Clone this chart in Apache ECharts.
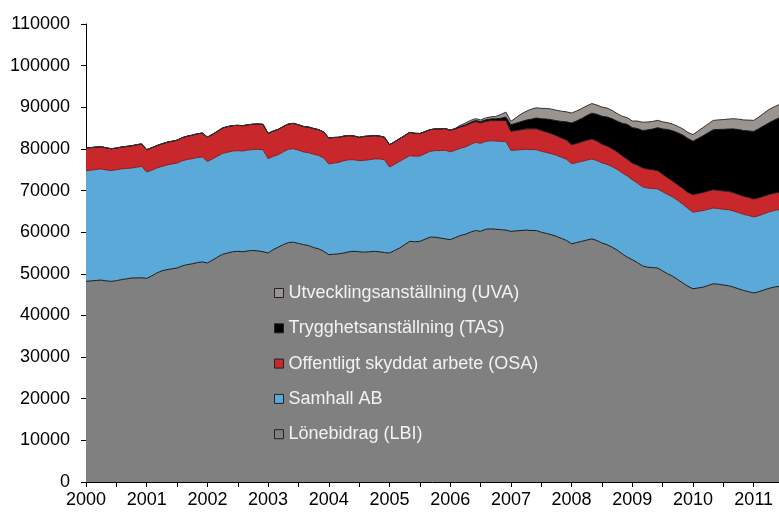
<!DOCTYPE html>
<html>
<head>
<meta charset="utf-8">
<script src="https://cdn.jsdelivr.net/npm/echarts@6/dist/echarts.min.js"></script>
<style>
  html, body { margin: 0; padding: 0; background: #fff; }
  #chart { width: 779px; height: 512px; }
</style>
</head>
<body>
<div id="chart"></div>
<script>
// manadsdata jan 2000 - jun 2011
var startYear = 2000, monthCount = 138;
var months = [];
for (var i = 0; i < monthCount; i++) {
  months.push((startYear + Math.floor(i / 12)) + '-' + ('0' + (i % 12 + 1)).slice(-2));
}

var names = ['Lönebidrag (LBI)', 'Samhall AB', 'Offentligt skyddat arbete (OSA)',
             'Trygghetsanställning (TAS)', 'Utvecklingsanställning (UVA)'];

var lbi = [
  48200, 48300, 48400, 48500, 48300, 48200, 48350, 48600, 48800, 49000, 49000, 49050,
  48900, 49500, 50200, 50700, 51000, 51200, 51400, 51900, 52200, 52400, 52700, 52850,
  52600, 53300, 54000, 54700, 55000, 55300, 55400, 55300, 55500, 55600, 55500, 55300,
  55000, 55800, 56400, 57000, 57500, 57600, 57300, 57000, 56800, 56300, 56000, 55400,
  54600, 54700, 54800, 55000, 55300, 55400, 55300, 55200, 55300, 55400, 55300, 55100,
  55000, 55600, 56200, 57000, 57800, 57700, 57800, 58300, 58800, 58800, 58600, 58400,
  58200, 58700, 59200, 59500, 60000, 60400, 60200, 60700, 60800, 60700, 60600, 60500,
  60200, 60300, 60400, 60500, 60400, 60400, 60000, 59700, 59400, 59000, 58500, 58000,
  57200, 57500, 57800, 58100, 58400, 58000, 57400, 57000, 56400, 55700, 54800, 54000,
  53400, 52700, 51900, 51600, 51500, 51400, 50700, 50000, 49400, 48600, 47800, 47000,
  46400, 46600, 46800, 47200, 47600, 47500, 47300, 47150, 46800, 46400, 46000, 45700,
  45400, 45700, 46100, 46500, 46800, 47000
];

var samhall = [
  26580, 26600, 26650, 26700, 26650, 26600, 26650, 26600, 26500, 26400, 26600, 26750,
  25560, 25400, 25200, 25100, 25150, 25200, 25200, 25250, 25250, 25250, 25220, 25210,
  24400, 24300, 24250, 24230, 24200, 24200, 24180, 24200, 24220, 24250, 24400, 24520,
  22650, 22400, 22220, 22300, 22400, 22460, 22400, 22270, 22300, 22420, 22430, 22430,
  21780, 21900, 22000, 22180, 22100, 22000, 21880, 22050, 22100, 22200, 22300, 22320,
  20660, 20700, 20810, 20700, 20580, 20550, 20500, 20550, 20620, 20800, 21000, 21300,
  21100, 21000, 20950, 20970, 21050, 21170, 21150, 21110, 21150, 21200, 21210, 21300,
  19450, 19430, 19420, 19420, 19420, 19420, 19440, 19460, 19460, 19480, 19500, 19500,
  19260, 19220, 19210, 19200, 19190, 19200, 19250, 19300, 19350, 19400, 19450, 19500,
  19200, 19100, 19000, 19000, 19000, 19000, 19000, 19050, 19050, 19000, 18900, 18700,
  18400, 18400, 18400, 18300, 18200, 18170, 18200, 18260, 18300, 18300, 18300, 18300,
  18250, 18250, 18300, 18350, 18400, 18430
];

var osa = [
  5440, 5420, 5400, 5350, 5300, 5250, 5200, 5250, 5300, 5350, 5400, 5400,
  5360, 5380, 5400, 5420, 5440, 5440, 5500, 5550, 5600, 5650, 5700, 5750,
  5840, 5900, 6000, 6100, 6160, 6100, 6080, 6080, 6080, 6080, 6080, 6080,
  6080, 6080, 6080, 6080, 6080, 6080, 6100, 6120, 6150, 6180, 6200, 6220,
  6240, 6150, 6000, 5900, 5800, 5700, 5600, 5760, 5700, 5600, 5500, 5400,
  5360, 5400, 5450, 5500, 5600, 5500, 5400, 5300, 5200, 5200, 5200, 5200,
  5200, 5150, 5120, 5120, 5100, 5000, 4900, 4800, 4850, 4900, 5000, 5040,
  4560, 4700, 4800, 4900, 5000, 5040, 5000, 4900, 4800, 4700, 4600, 4600,
  4560, 4600, 4700, 4800, 4800, 4700, 4500, 4400, 4300, 4200, 4100, 4000,
  4000, 4300, 4560, 4560, 4500, 4400, 4200, 4000, 3800, 3760, 3800, 3840,
  4240, 4300, 4350, 4400, 4400, 4400, 4400, 4400, 4400, 4350, 4350, 4320,
  4320, 4300, 4250, 4200, 4180, 4160
];

var tas = [
  0, 0, 0, 0, 0, 0, 0, 0, 0, 0, 0, 0,
  0, 0, 0, 0, 0, 0, 0, 0, 0, 0, 0, 0,
  0, 0, 0, 0, 0, 0, 0, 0, 0, 0, 0, 0,
  0, 0, 0, 0, 0, 0, 0, 0, 0, 0, 0, 0,
  0, 0, 0, 0, 0, 0, 0, 0, 0, 0, 0, 0,
  0, 0, 0, 0, 0, 0, 0, 0, 0, 0, 0, 0,
  0, 0, 100, 150, 200, 250, 300, 350, 400, 450, 550, 800,
  1600, 1750, 1920, 2100, 2300, 2560, 2800, 3100, 3350, 3600, 4000, 4400,
  5200, 5400, 5600, 5900, 6200, 6400, 6700, 6960, 7200, 7360, 7800, 8400,
  8500, 8800, 8960, 9400, 9760, 10300, 10900, 11600, 12100, 12500, 12800, 12960,
  12800, 13200, 13600, 14000, 14400, 14600, 14800, 14960, 15300, 15600, 15760, 16000,
  16240, 16600, 16900, 17200, 17500, 17840
];

var uva = [
  0, 0, 0, 0, 0, 0, 0, 0, 0, 0, 0, 0,
  0, 0, 0, 0, 0, 0, 0, 0, 0, 0, 0, 0,
  0, 0, 0, 0, 0, 0, 0, 0, 0, 0, 0, 0,
  0, 0, 0, 0, 0, 0, 0, 0, 0, 0, 0, 0,
  0, 0, 0, 0, 0, 0, 0, 0, 0, 0, 0, 0,
  0, 0, 0, 0, 0, 0, 0, 0, 0, 0, 0, 0,
  0, 100, 300, 450, 480, 450, 420, 450, 500, 550, 900, 1200,
  800, 1300, 1840, 2100, 2400, 2450, 2500, 2560, 2560, 2500, 2450, 2400,
  2400, 2400, 2400, 2350, 2300, 2240, 2200, 2150, 2000, 1840, 1700, 1600,
  1600, 1800, 2000, 1900, 1840, 1760, 1700, 1650, 1600, 1550, 1500, 1440,
  1600, 1800, 2000, 2100, 2240, 2300, 2350, 2400, 2450, 2500, 2550, 2600,
  2640, 2800, 3000, 3200, 3200, 3200
];

var colors = ['#808080', '#5aa9d8', '#c8282b', '#000000', '#9a9491'];
var edgeColors = ['#1a1a1a', '#8e1c1c', '#1a1a1a', '#111111', '#333333'];
var values = [lbi, samhall, osa, tas, uva];

var font = 'Liberation Sans, Arial, sans-serif';

var chart = echarts.init(document.getElementById('chart'));

var series = [];
for (var s = 0; s < names.length; s++) {
  series.push({
    name: names[s],
    type: 'line',
    stack: 'total',
    data: values[s],
    showSymbol: false,
    symbol: 'none',
    smooth: false,
    color: colors[s],
    lineStyle: { width: 1, color: edgeColors[s] },
    areaStyle: { color: colors[s], opacity: 1 },
    itemStyle: { color: colors[s] }
  });
}

chart.setOption({
  animation: false,
  backgroundColor: '#ffffff',
  grid: { left: 86, right: 0, top: 24, bottom: 30 },
  legend: {
    orient: 'vertical',
    left: 269,
    top: 279,
    icon: 'rect',
    itemWidth: 9,
    itemHeight: 9,
    itemGap: 17.3,
    data: names.slice().reverse(),
    itemStyle: { borderColor: '#222', borderWidth: 1 },
    textStyle: { color: '#f2f2f2', fontSize: 18, lineHeight: 18, fontFamily: font }
  },
  xAxis: {
    type: 'category',
    data: months,
    boundaryGap: false,
    axisLine: { lineStyle: { color: '#000', width: 1 } },
    axisTick: {
      show: true,
      length: 5,
      lineStyle: { color: '#000' },
      interval: function (idx) { return idx % 6 === 0; }
    },
    axisLabel: {
      interval: function (idx) { return idx % 12 === 0; },
      formatter: function (val) { return val.slice(0, 4); },
      color: '#000',
      fontSize: 18,
      fontFamily: font,
      margin: 9
    },
    splitLine: { show: false }
  },
  yAxis: {
    type: 'value',
    min: 0,
    max: 110000,
    interval: 10000,
    axisLine: { show: true, lineStyle: { color: '#000', width: 1 } },
    axisTick: { show: true, length: 5, lineStyle: { color: '#000' } },
    axisLabel: {
      color: '#000', fontSize: 18, fontFamily: font, margin: 16,
      formatter: function (v) { return String(v); }
    },
    splitLine: { show: false }
  },
  series: series
});
</script>
</body>
</html>
